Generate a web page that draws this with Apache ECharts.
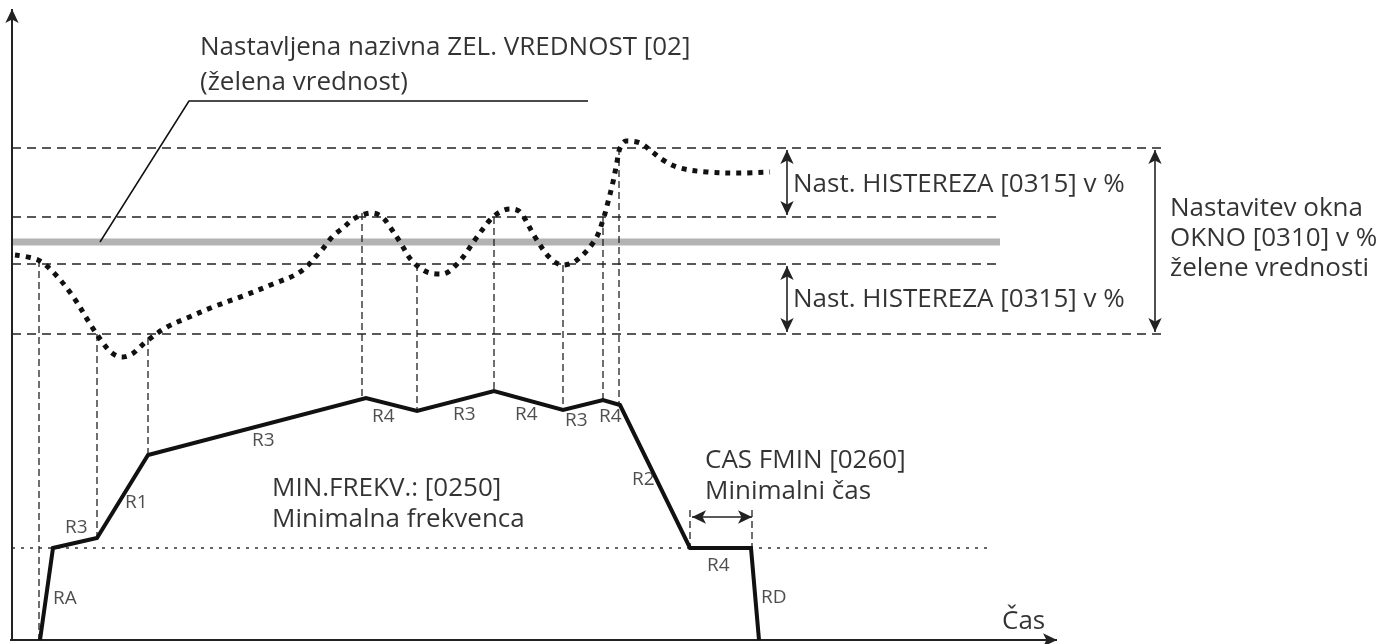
<!DOCTYPE html>
<html>
<head>
<meta charset="utf-8">
<script src="https://cdn.jsdelivr.net/npm/echarts@6/dist/echarts.min.js"></script>
<style>
  html, body { margin: 0; padding: 0; background: #fff; }
  #chart { width: 1396px; height: 644px; }
</style>
</head>
<body>
<div id="chart"></div>
<script>
// Time runs along x, the controlled quantity / output frequency along y.

// Reference levels around the setpoint
const levelUpperWindow = 492;
const levelUpperHyst = 423;
const levelSetpoint = 398;
const levelLowerHyst = 376;
const levelLowerWindow = 306;
const levelMinFreq = 92;

// Measured process value (dotted curve)
const processValue = [
  [3, 385], [26, 380], [41, 368], [60, 345], [80, 313], [91, 297], [100, 287],
  [110, 283], [120, 286], [128, 293], [136, 300], [155, 313], [175, 322],
  [201, 333], [231, 344], [261, 356], [288, 368], [308, 388], [321, 404],
  [331, 412], [340, 420], [350, 425], [360, 427], [370, 423], [378, 413],
  [388, 398], [401, 378], [418, 367], [430, 366], [446, 377], [465, 403],
  [478, 420], [488, 428], [498, 431], [508, 428], [523, 403], [538, 382],
  [551, 375], [565, 380], [583, 400], [591, 420], [596, 438], [601, 458],
  [605, 478], [608, 492], [614, 499], [628, 497], [638, 490], [651, 480],
  [668, 472], [695, 468], [728, 467], [758, 468]
];

// Output frequency ramp (solid polyline)
const outputFrequency = [
  [28, 0], [41, 92], [85, 102], [136, 185], [354, 242], [405, 229],
  [482, 249], [551, 230], [591, 240], [608, 235], [678, 92], [739, 92], [747, 0]
];

// Switching instants: [time, from level, to level]
const switchPoints = [
  [27, 380, 0], [85, 306, 102], [136, 302, 185], [350, 427, 241],
  [405, 376, 229], [482, 423, 249], [551, 375, 230], [591, 423, 240],
  [607, 492, 235], [678, 130, 92], [740, 130, 92]
];

// Ramp names along the output curve
const rampNames = ['RA', 'R3', 'R1', 'R3', 'R4', 'R3', 'R4', 'R3', 'R4', 'R2', 'R4', 'RD'];
const rampAnchors = [
  [41, 41], [53, 112], [113, 137], [240, 199], [360, 223], [441, 225],
  [503, 225], [553, 219], [587, 223], [620, 160], [695, 74], [749, 42]
];

// Annotation texts
const setpointText = ['Nastavljena nazivna ZEL. VREDNOST [02]', '(želena vrednost)'];
const hysteresisText = 'Nast. HISTEREZA [0315] v %';
const windowText = ['Nastavitev okna', 'OKNO [0310] v %', 'želene vrednosti'];
const minFreqText = ['MIN.FREKV.: [0250]', 'Minimalna frekvenca'];
const minTimeText = ['CAS FMIN [0260]', 'Minimalni čas'];
const timeAxisName = 'Čas';

const FONT = '"Open Sans", "Noto Sans", sans-serif';
const INK = '#111';

const dashed = { color: '#222', width: 1.5, type: [9, 6] };

function poly(points, lineStyle, z) {
  return {
    type: 'line', data: points, showSymbol: false, symbol: 'none',
    silent: true, animation: false, clip: false, z: z || 2,
    lineStyle: lineStyle
  };
}

const series = [];

// Horizontal reference lines
series.push(poly([[0, levelUpperWindow], [1155, levelUpperWindow]], dashed));
series.push(poly([[0, levelUpperHyst], [988, levelUpperHyst]], dashed));
series.push(poly([[0, levelLowerHyst], [988, levelLowerHyst]], dashed));
series.push(poly([[0, levelLowerWindow], [1155, levelLowerWindow]], dashed));
series.push(poly([[0, levelSetpoint], [988, levelSetpoint]], { color: '#b3b3b3', width: 7, cap: 'butt' }, 1));
series.push(poly([[0, levelMinFreq], [978, levelMinFreq]], { color: '#333', width: 1.5, type: [3, 6] }));

// Vertical projection lines
switchPoints.forEach(function (s) {
  series.push(poly([[s[0], s[1]], [s[0], s[2]]], { color: '#222', width: 1.3, type: [7, 4] }));
});

// Setpoint leader line
series.push(poly([[88, levelSetpoint], [177, 539], [576, 539]], { color: INK, width: 1.5 }));

// Process value (smoothed, dotted) and output frequency
const pv = poly(processValue, { color: INK, width: 5, type: [5, 6], cap: 'butt' }, 4);
pv.smooth = 0.35;
series.push(pv);
series.push(poly(outputFrequency, { color: INK, width: 4, join: 'miter' }, 5));

// Axes and dimension arrows
function arrow(a, b, both) {
  return [
    { coord: a, symbol: both ? 'arrow' : 'none' },
    { coord: b, symbol: 'arrow' }
  ];
}
series.push({
  type: 'line', data: [], silent: true, animation: false,
  markLine: {
    silent: true, animation: false, symbolSize: [10, 14],
    label: { show: false },
    lineStyle: { color: '#222', width: 1.6, type: 'solid' },
    data: [
      arrow([775, 425], [775, 490], true),
      arrow([775, 308], [775, 374], true),
      arrow([1143, 308], [1143, 490], true),
      arrow([680, 123], [740, 123], true)
    ]
  }
});
series.push({
  type: 'line', data: [], silent: true, animation: false,
  markLine: {
    silent: true, animation: false, symbolSize: [10, 14],
    label: { show: false },
    lineStyle: { color: '#222', width: 2, type: 'solid' },
    data: [
      arrow([0, 0], [0, 631], false),
      arrow([-2, 0], [1045, 0], false)
    ]
  }
});

// Text annotations
function texts(items, size, color) {
  return {
    type: 'scatter', symbolSize: 0, silent: true, animation: false, z: 6,
    data: items.map(function (it) { return { value: it[0], name: it[1] }; }),
    label: {
      show: true, position: [0, 0], align: 'left', verticalAlign: 'middle',
      formatter: function (p) { return p.name; },
      fontFamily: FONT, fontSize: size, color: color
    }
  };
}
series.push(texts([
  [[188, 592], setpointText[0]], [[188, 557], setpointText[1]],
  [[781, 455], hysteresisText], [[781, 340], hysteresisText],
  [[1158, 431], windowText[0]], [[1158, 401], windowText[1]], [[1158, 371], windowText[2]],
  [[260, 151], minFreqText[0]], [[260, 120], minFreqText[1]],
  [[693, 179], minTimeText[0]], [[693, 148], minTimeText[1]],
  [[990, 18], timeAxisName]
], 26, '#000'));
series.push(texts(rampNames.map(function (n, i) { return [rampAnchors[i], n]; }), 19, '#222'));

const chart = echarts.init(document.getElementById('chart'), null, { renderer: 'canvas' });
chart.setOption({
  backgroundColor: '#fff',
  animation: false,
  grid: { left: 0, right: 0, top: 0, bottom: 0 },
  xAxis: { type: 'value', min: -12, max: 1384, show: false },
  yAxis: { type: 'value', min: -4, max: 640, show: false },
  series: series
});
</script>
</body>
</html>
